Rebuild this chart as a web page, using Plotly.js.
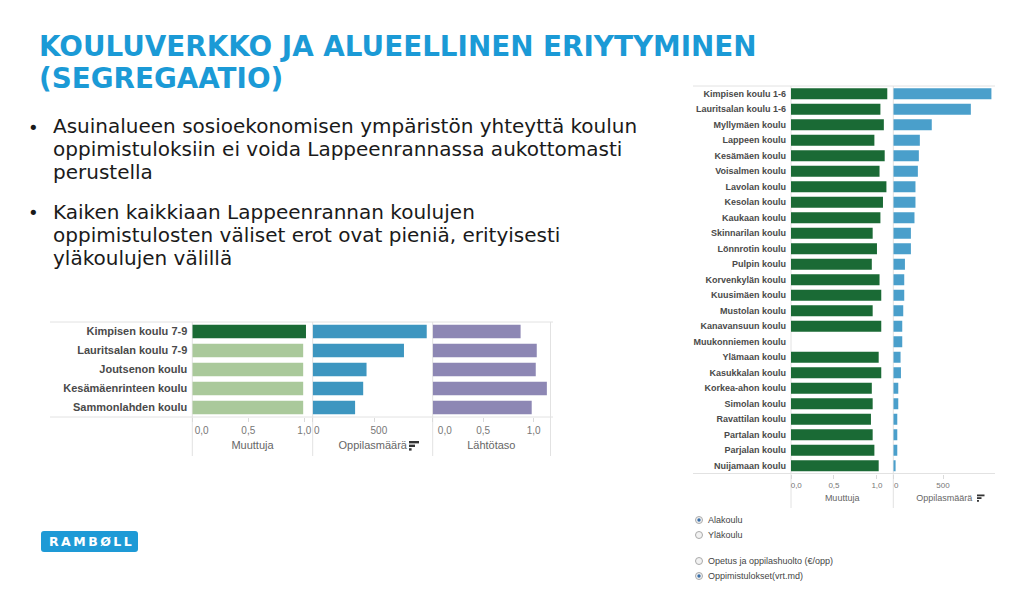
<!DOCTYPE html>
<html>
<head>
<meta charset="utf-8">
<script src="https://cdn.plot.ly/plotly-3.0.1.min.js"></script>
<style>html,body{margin:0;padding:0;background:#fff;}#chart{width:1024px;height:590px;}</style>
</head>
<body>
<div id="chart"></div>
<script>
// ---------- data ----------
const leftSchools = ["Kimpisen koulu 7-9","Lauritsalan koulu 7-9","Joutsenon koulu","Kesämäenrinteen koulu","Sammonlahden koulu"];
const leftMuuttuja = [1.015, 0.99, 0.99, 0.99, 0.99];
const leftOppilasmaara = [917, 734, 433, 406, 341];
const leftLahtotaso = [0.87, 1.03, 1.02, 1.13, 0.98];

const rightSchools = ["Kimpisen koulu 1-6","Lauritsalan koulu 1-6","Myllymäen koulu","Lappeen koulu","Kesämäen koulu","Voisalmen koulu","Lavolan koulu","Kesolan koulu","Kaukaan koulu","Skinnarilan koulu","Lönnrotin koulu","Pulpin koulu","Korvenkylän koulu","Kuusimäen koulu","Mustolan koulu","Kanavansuun koulu","Muukonniemen koulu","Ylämaan koulu","Kasukkalan koulu","Korkea-ahon koulu","Simolan koulu","Ravattilan koulu","Partalan koulu","Parjalan koulu","Nuijamaan koulu"];
const rightMuuttuja = [1.12,1.04,1.08,0.97,1.09,1.03,1.11,1.07,1.04,0.95,1.00,0.94,1.03,1.05,0.95,1.05,null,1.02,1.05,0.94,0.95,0.93,0.95,0.97,1.02];
const rightOppilasmaara = [987,780,387,267,257,247,223,223,213,177,177,117,110,110,100,90,90,73,77,50,50,40,40,40,23];

// tick values and tick labels (Tableau keeps edge labels inside their panel)
const ratioTicks = [0, 0.5, 1];
const countTicks = [0, 500];
const ratioLabelsA = ["\u2007\u2007\u2007\u20090,0", "0,5", "1,0"];
const countLabelsA = ["0", "500"];
const ratioLabelsB = ["\u2007\u2007\u2007\u2007\u20090,0", "0,5", "1,0"];
const ratioLabelsR = ["\u2007\u2007\u20090,0", "0,5", "1,0"];
const countLabelsR = ["\u2007\u20090", "500"];

const titleLines = ["KOULUVERKKO JA ALUEELLINEN ERIYTYMINEN","(SEGREGAATIO)"];
const bulletLines = [
  ["Asuinalueen sosioekonomisen ympäristön yhteyttä koulun","oppimistuloksiin ei voida Lappeenrannassa aukottomasti","perustella"],
  ["Kaiken kaikkiaan Lappeenrannan koulujen","oppimistulosten väliset erot ovat pieniä, erityisesti","yläkoulujen välillä"]
];
const radioGroup1 = ["Alakoulu","Yläkoulu"];
const radioGroup2 = ["Opetus ja oppilashuolto (€/opp)","Oppimistulokset(vrt.md)"];
const axisTitles = ["Muuttuja","Oppilasmäärä","Lähtötaso"];

// ---------- helpers ----------
const W = 1024, H = 590;
const px = x => x / W;
const py = y => 1 - y / H;

const GREEN_D = "#1a6a35", GREEN_L = "#aac99b", BLUE = "#3d96c0", BLUE_R = "#4a9fcb", PURPLE = "#8d87b4";
const LBL = "Liberation Sans, Arial, sans-serif";
const LINE = "#e2e2e2";

const traces = [
  {type:"bar", orientation:"h", y:leftSchools, x:leftMuuttuja, xaxis:"x", yaxis:"y",
   marker:{color:leftSchools.map((s,i)=> i===0 ? GREEN_D : GREEN_L)}, hoverinfo:"none"},
  {type:"bar", orientation:"h", y:leftSchools, x:leftOppilasmaara, xaxis:"x2", yaxis:"y",
   marker:{color:BLUE}, hoverinfo:"none"},
  {type:"bar", orientation:"h", y:leftSchools, x:leftLahtotaso, xaxis:"x3", yaxis:"y",
   marker:{color:PURPLE}, hoverinfo:"none"},
  {type:"bar", orientation:"h", y:rightSchools, x:rightMuuttuja, xaxis:"x4", yaxis:"y2",
   marker:{color:GREEN_D}, hoverinfo:"none"},
  {type:"bar", orientation:"h", y:rightSchools, x:rightOppilasmaara, xaxis:"x5", yaxis:"y2",
   marker:{color:BLUE_R}, hoverinfo:"none"}
];

function xAx(domain, range, tickvals, ticktext, anchor, tsize, title, titleSize, standoff, shift){
  return {domain, range, tickmode:"array", tickvals, ticktext, anchor, fixedrange:true,
    showgrid:false, zeroline:false, showline:false,
    ticks:"outside", ticklen:4, tickcolor:"#dadada", ticklabelshift:shift||0,
    tickfont:{family:LBL, size:tsize, color:"#777"},
    title:{text:title, font:{family:LBL, size:titleSize, color:"#666"}, standoff}};
}

const layout = {
  width:W, height:H, margin:{l:0,r:0,t:0,b:0}, autosize:false,
  paper_bgcolor:"#fff", plot_bgcolor:"rgba(0,0,0,0)",
  showlegend:false, separators:", ", bargap:0.3,
  xaxis:  xAx([px(192.3),px(312.7)], [0,1.075], ratioTicks, ratioLabelsA, "y", 10, axisTitles[0], 11, 6),
  xaxis2: xAx([px(312.7),px(432.7)], [0,965], countTicks, countLabelsA, "y", 10, axisTitles[1], 11, 6, 4),
  xaxis3: xAx([px(432.7),px(550)], [0,1.161], ratioTicks, ratioLabelsB, "y", 10, axisTitles[2], 11, 6),
  xaxis4: xAx([px(791),px(893.3)], [0,1.19], ratioTicks, ratioLabelsR, "y2", 8, axisTitles[0], 9, 5),
  xaxis5: xAx([px(893.3),px(995)], [0,1023], countTicks, countLabelsR, "y2", 8, axisTitles[1], 9, 5),
  yaxis: {domain:[py(417),py(322)], anchor:"x", type:"category", range:[4.5,-0.5], fixedrange:true,
    showgrid:false, zeroline:false, showline:false, ticks:"", ticklabelstandoff:4,
    tickfont:{family:LBL, size:11, color:"#4a4a4a", weight:"bold"}},
  yaxis2: {domain:[py(473.5),py(86)], anchor:"x4", type:"category", range:[24.5,-0.5], fixedrange:true,
    showgrid:false, zeroline:false, showline:false, ticks:"", ticklabelstandoff:4,
    tickfont:{family:LBL, size:9, color:"#4a4a4a", weight:"bold"}},
  shapes:[], annotations:[]
};

const S = layout.shapes, A = layout.annotations;
function hline(y,x0,x1){S.push({type:"line",xref:"paper",yref:"paper",x0:px(x0),x1:px(x1),y0:py(y),y1:py(y),line:{color:LINE,width:1},layer:"below"});}
function vline(x,y0,y1){S.push({type:"line",xref:"paper",yref:"paper",x0:px(x),x1:px(x),y0:py(y0),y1:py(y1),line:{color:LINE,width:1},layer:"below"});}
function rect(x0,y0,x1,y1,color){S.push({type:"rect",xref:"paper",yref:"paper",x0:px(x0),x1:px(x1),y0:py(y0),y1:py(y1),line:{width:0},fillcolor:color});}

// chart frames (Tableau style)
hline(322,50,553); hline(417,50,553);
[192.3,312.7,432.7,550.5].forEach(x=>vline(x,322,456));
hline(86,693,995); hline(473.5,693,995);
[791,893.3].forEach(x=>vline(x,86,508));

// sort icons next to "Oppilasmäärä"
function sortIcon(x,y,s){
  rect(x, y, x+10*s, y+2.4*s, "#333");
  rect(x, y+3.6*s, x+6*s, y+6*s, "#333");
  rect(x, y+7.2*s, x+2.6*s, y+9.6*s, "#333");
}
sortIcon(409,441,1); sortIcon(977,494.5,0.75);

// title
const titleFont = {family:"DejaVu Sans",size:27.8,color:"#1b9ad6",weight:"bold"};
A.push({xref:"paper",yref:"paper",x:px(37),y:py(47),xanchor:"left",yanchor:"middle",showarrow:false,text:titleLines[0],font:titleFont});
A.push({xref:"paper",yref:"paper",x:px(37),y:py(78),xanchor:"left",yanchor:"middle",showarrow:false,text:titleLines[1],font:titleFont});

// bullets
const bulletFont = {family:"DejaVu Sans",size:20,color:"#1a1a1a"};
[126,212].forEach((y0,i)=>{
  bulletLines[i].forEach((ln,j)=>{
    A.push({xref:"paper",yref:"paper",x:px(51),y:py(y0+23*j),xanchor:"left",yanchor:"middle",align:"left",showarrow:false,
      text:ln,font:bulletFont});
  });
  A.push({xref:"paper",yref:"paper",x:px(33),y:py(y0+1),xanchor:"center",yanchor:"middle",showarrow:false,
    text:"•",font:{family:"DejaVu Sans",size:18,color:"#1a1a1a"}});
});

// Ramboll logo
S.push({type:"path",xref:"paper",yref:"paper",fillcolor:"#1e9ad6",line:{width:0},
  path:(function(){const x0=41,x1=138,y0=531,y1=552,r=3;
    return `M ${px(x0+r)} ${py(y0)} L ${px(x1-r)} ${py(y0)} Q ${px(x1)} ${py(y0)} ${px(x1)} ${py(y0+r)} L ${px(x1)} ${py(y1-r)} Q ${px(x1)} ${py(y1)} ${px(x1-r)} ${py(y1)} L ${px(x0+r)} ${py(y1)} Q ${px(x0)} ${py(y1)} ${px(x0)} ${py(y1-r)} L ${px(x0)} ${py(y0+r)} Q ${px(x0)} ${py(y0)} ${px(x0+r)} ${py(y0)} Z`;})()});
A.push({xref:"paper",yref:"paper",x:px(90),y:py(541.5),xanchor:"center",yanchor:"middle",showarrow:false,
  text:"R\u2009A\u2009M\u2009B\u2009Ø\u2009L\u2009L",font:{family:"DejaVu Sans",size:12.5,color:"#fff",weight:"bold"}});

// radio buttons
function radio(y,label,selected){
  S.push({type:"circle",xref:"paper",yref:"paper",x0:px(695.5),x1:px(702.5),y0:py(y-3.5),y1:py(y+3.5),
    line:{color:"#aaa",width:1},fillcolor:"#f2f2f2"});
  if(selected) S.push({type:"circle",xref:"paper",yref:"paper",x0:px(697.3),x1:px(700.7),y0:py(y-1.7),y1:py(y+1.7),
    line:{width:0},fillcolor:"#3a6fa8"});
  A.push({xref:"paper",yref:"paper",x:px(706),y:py(y),xanchor:"left",yanchor:"middle",showarrow:false,
    text:label,font:{family:LBL,size:9,color:"#444"}});
}
radio(520,radioGroup1[0],true); radio(535,radioGroup1[1],false);
radio(561,radioGroup2[0],false); radio(576,radioGroup2[1],true);

Plotly.newPlot("chart", traces, layout, {displayModeBar:false, staticPlot:true});
</script>
</body>
</html>
